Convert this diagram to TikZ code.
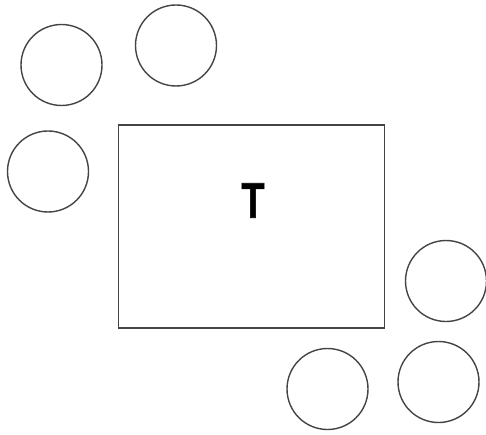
\documentclass[tikz,border=0pt]{standalone}
\usepackage{graphicx}
\usepackage{fontspec}
\newfontfamily\tfont[FakeBold=1.5]{Liberation Sans Bold}
\definecolor{ink}{HTML}{444444}
\begin{document}
\begin{tikzpicture}[x=1pt,y=-1pt,
  ring/.style={draw=ink,line width=1.4pt,circle,minimum size=81pt,inner sep=0pt},
  table/.style={draw=ink,line width=1.4pt,rectangle,inner sep=0pt}]
\useasboundingbox (0,0) rectangle (486,435);
\node[ring] (c1) at (61.5,65) {};
\node[ring] (c2) at (176,45.5) {};
\node[ring] (c3) at (48,171.5) {};
\node[ring] (c4) at (446,281) {};
\node[ring] (c5) at (327.5,389) {};
\node[ring] (c6) at (438.5,382) {};
\draw[ink,line width=1.4pt] (118.5,125) rectangle (384.5,328);
\node[inner sep=0pt,text=black] (t) at (253,200.5) {\tfont\fontsize{50}{50}\selectfont\scalebox{0.75}[1]{T}};
\end{tikzpicture}
\end{document}
